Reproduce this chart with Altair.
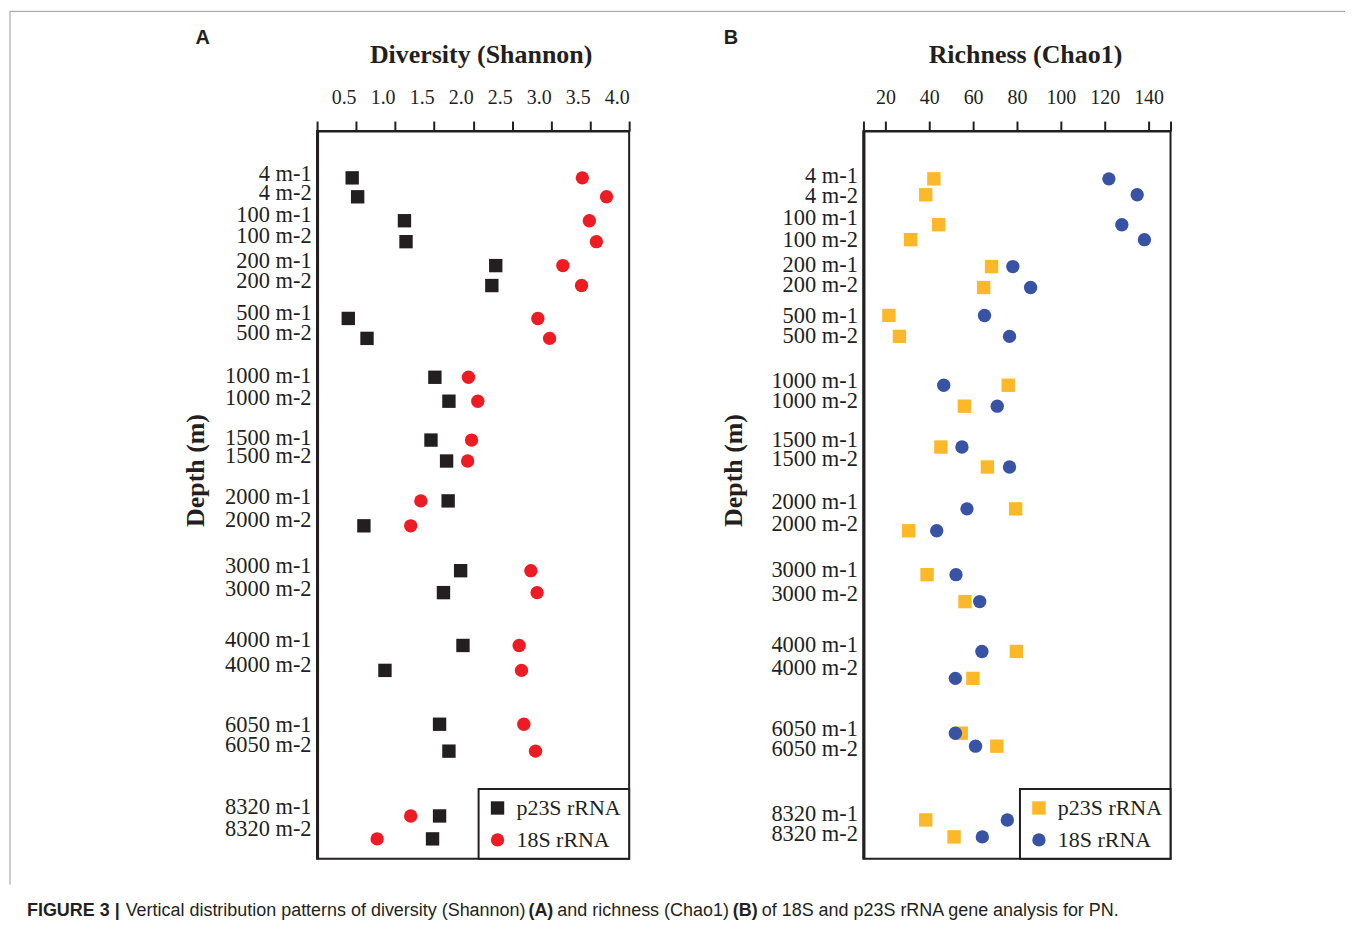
import altair as alt
import pandas as pd

samples = ["4 m-1", "4 m-2", "100 m-1", "100 m-2", "200 m-1", "200 m-2",
           "500 m-1", "500 m-2", "1000 m-1", "1000 m-2", "1500 m-1", "1500 m-2",
           "2000 m-1", "2000 m-2", "3000 m-1", "3000 m-2", "4000 m-1", "4000 m-2",
           "6050 m-1", "6050 m-2", "8320 m-1", "8320 m-2"]

series_names = ["p23S rRNA", "18S rRNA"]

shannon_p23S = [0.45, 0.52, 1.12, 1.14, 2.29, 2.24, 0.40, 0.64, 1.51, 1.69, 1.46, 1.66,
                1.68, 0.60, 1.84, 1.62, 1.87, 0.87, 1.57, 1.69, 1.57, 1.48]
shannon_18S = [3.40, 3.71, 3.49, 3.58, 3.15, 3.39, 2.83, 2.98, 1.94, 2.06, 1.98, 1.93,
               1.33, 1.20, 2.74, 2.82, 2.59, 2.62, 2.65, 2.80, 1.20, 0.77]

chao1_p23S = [42.1, 38.4, 44.3, 31.5, 68.4, 64.8, 21.6, 26.4, 76.0, 56.0, 45.3, 66.5,
              79.4, 30.6, 39.0, 56.3, 79.7, 59.9, 54.6, 70.8, 38.4, 51.3]
chao1_18S = [121.9, 134.8, 127.8, 138.1, 78.1, 86.2, 65.2, 76.6, 46.6, 71.0, 54.9, 76.6,
             57.2, 43.4, 52.2, 63.0, 64.0, 51.9, 51.9, 61.1, 75.6, 64.2]

# vertical row slots (depth-ordered layout units, top = 0)
rows_A_points = [47, 66, 90, 111, 135, 155, 188, 208, 247, 271, 310, 331, 371, 396,
                 441, 463, 516, 541, 595, 622, 687, 710]
rows_A_labels = [43, 62, 84, 105, 130, 150, 182, 202, 245, 267, 307, 325, 367, 390,
                 436, 459, 510, 535, 595, 615, 678, 700]
rows_B_points = [48, 64, 94, 109, 136, 157, 185, 206, 255, 276, 317, 337, 379, 401,
                 445, 472, 522, 549, 604, 617, 691, 708]
rows_B_labels = [45, 65, 87, 109, 134, 154, 185, 205, 250, 270, 309, 329, 372, 394,
                 440, 464, 515, 538, 599, 619, 685, 705]

shannon_ticks = [0, 0.5, 1.0, 1.5, 2.0, 2.5, 3.0, 3.5, 4.0]
chao1_ticks = [10, 20, 40, 60, 80, 100, 120, 140, 150]

SERIF = "Liberation Serif"
SANS = "Liberation Sans"
INK = "#231f20"
PW, PH = 313, 730


def make_df(p23, s18, rows):
    recs = []
    for name, v, r in zip(samples, p23, rows):
        recs.append({"sample": name, "series": series_names[0], "value": v, "row": r})
    for name, v, r in zip(samples, s18, rows):
        recs.append({"sample": name, "series": series_names[1], "value": v, "row": r})
    return pd.DataFrame(recs)


def label_expr(rows):
    names = ",".join("'" + s + "'" for s in samples)
    nums = ",".join(str(r) for r in rows)
    return "[" + names + "][indexof([" + nums + "], datum.value)]"


one = pd.DataFrame({"k": [0]})


def legend():
    return alt.Legend(orient="bottom-right", offset=0, padding=8, rowPadding=10,
                      strokeColor=INK, fillColor="white", labelFont=SERIF,
                      labelFontSize=22, labelColor=INK, symbolSize=180,
                      symbolStrokeWidth=0, labelOffset=8)


def points(df, width, xdomain, xticks, xexpr, xtitle, titlex, xalign, colors, label_rows, ytp):
    return alt.Chart(df).mark_point(filled=True, opacity=1, size=180, strokeWidth=0).encode(
        x=alt.X("value:Q", scale=alt.Scale(domain=xdomain, nice=False, zero=False),
                axis=alt.Axis(orient="top", values=xticks, labelExpr=xexpr, title=xtitle,
                              titleFont=SERIF, titleFontWeight="bold", titleFontSize=26,
                              titlePadding=20, titleX=titlex, labelFont=SERIF,
                              labelFontSize=20, labelPadding=14, labelAlign=xalign,
                              grid=False, tickSize=10, tickWidth=2, domainWidth=2,
                              labelOverlap=False, labelFlush=False)),
        y=alt.Y("row:Q", scale=alt.Scale(domain=[0, PH], reverse=True, nice=False, zero=False),
                axis=alt.Axis(values=label_rows, labelExpr=label_expr(label_rows),
                              title="Depth (m)", titleFont=SERIF, titleFontWeight="bold",
                              titleFontSize=26, titlePadding=ytp, titleY=340,
                              labelFont=SERIF, labelFontSize=22.5, labelPadding=6,
                              ticks=False, grid=False, domainWidth=3,
                              labelOverlap=False, labelFlush=False)),
        color=alt.Color("series:N", title=None,
                        scale=alt.Scale(domain=series_names, range=colors), legend=legend()),
        shape=alt.Shape("series:N", title=None,
                        scale=alt.Scale(domain=series_names, range=["square", "circle"]),
                        legend=legend()),
    ).properties(width=width, height=PH)


def txt(s, x, y, size, bold, font, color=INK):
    return alt.Chart(one).mark_text(font=font, fontSize=size, fontWeight="bold" if bold else "normal",
                                    align="left", baseline="middle", color=color).encode(
        x=alt.value(x), y=alt.value(y), text=alt.value(s))


dfA = make_df(shannon_p23S, shannon_18S, rows_A_points)
dfB = make_df(chao1_p23S, chao1_18S, rows_B_points)

ptsA = points(dfA, PW, [0, 4.0], shannon_ticks,
              "datum.value == 0 ? '' : format(datum.value, '.1f')",
              "Diversity (Shannon)", 164, "right", [INK, "#ed1c24"], rows_A_labels, 16)
ptsB = points(dfB, 308, [10, 150], chao1_ticks,
              "(datum.value == 10 || datum.value == 150) ? '' : format(datum.value, 'd')",
              "Richness (Chao1)", 162, "center", ["#fbb829", "#3953a4"], rows_B_labels, 24)

frame_top = alt.Chart(one).mark_rule(color="#9a9a9a", strokeWidth=1).encode(
    x=alt.value(-308), x2=alt.value(1031), y=alt.value(-120))
frame_left = alt.Chart(one).mark_rule(color="#9a9a9a", strokeWidth=1).encode(
    x=alt.value(-308), y=alt.value(-120), y2=alt.value(756))

capy = 782
CS = 18
caption = [
    txt("FIGURE 3 |", -291, capy, CS, True, SANS),
    txt("Vertical distribution patterns of diversity (Shannon)", -192, capy, CS, False, SANS),
    txt("(A)", 212, capy, CS, True, SANS),
    txt("and richness (Chao1)", 241, capy, CS, False, SANS),
    txt("(B)", 417, capy, CS, True, SANS),
    txt("of 18S and p23S rRNA gene analysis for PN.", 446, capy, CS, False, SANS),
]

panelA = alt.layer(frame_top, frame_left, ptsA,
                   txt("A", -122, -93, 20, True, SANS), *caption)
panelB = alt.layer(ptsB, txt("B", -140, -93, 20, True, SANS))

chart = alt.hconcat(panelA, panelB, spacing=235, bounds="flush").resolve_scale(
    color="independent", shape="independent", x="independent", y="independent"
).properties(padding=0).configure_view(
    stroke=INK, strokeWidth=2
).configure_axis(
    domainColor=INK, tickColor=INK, labelColor=INK, titleColor=INK
).configure_legend(strokeWidth=2)

chart.save("out.html", embed_options={"renderer": "svg", "actions": False})
